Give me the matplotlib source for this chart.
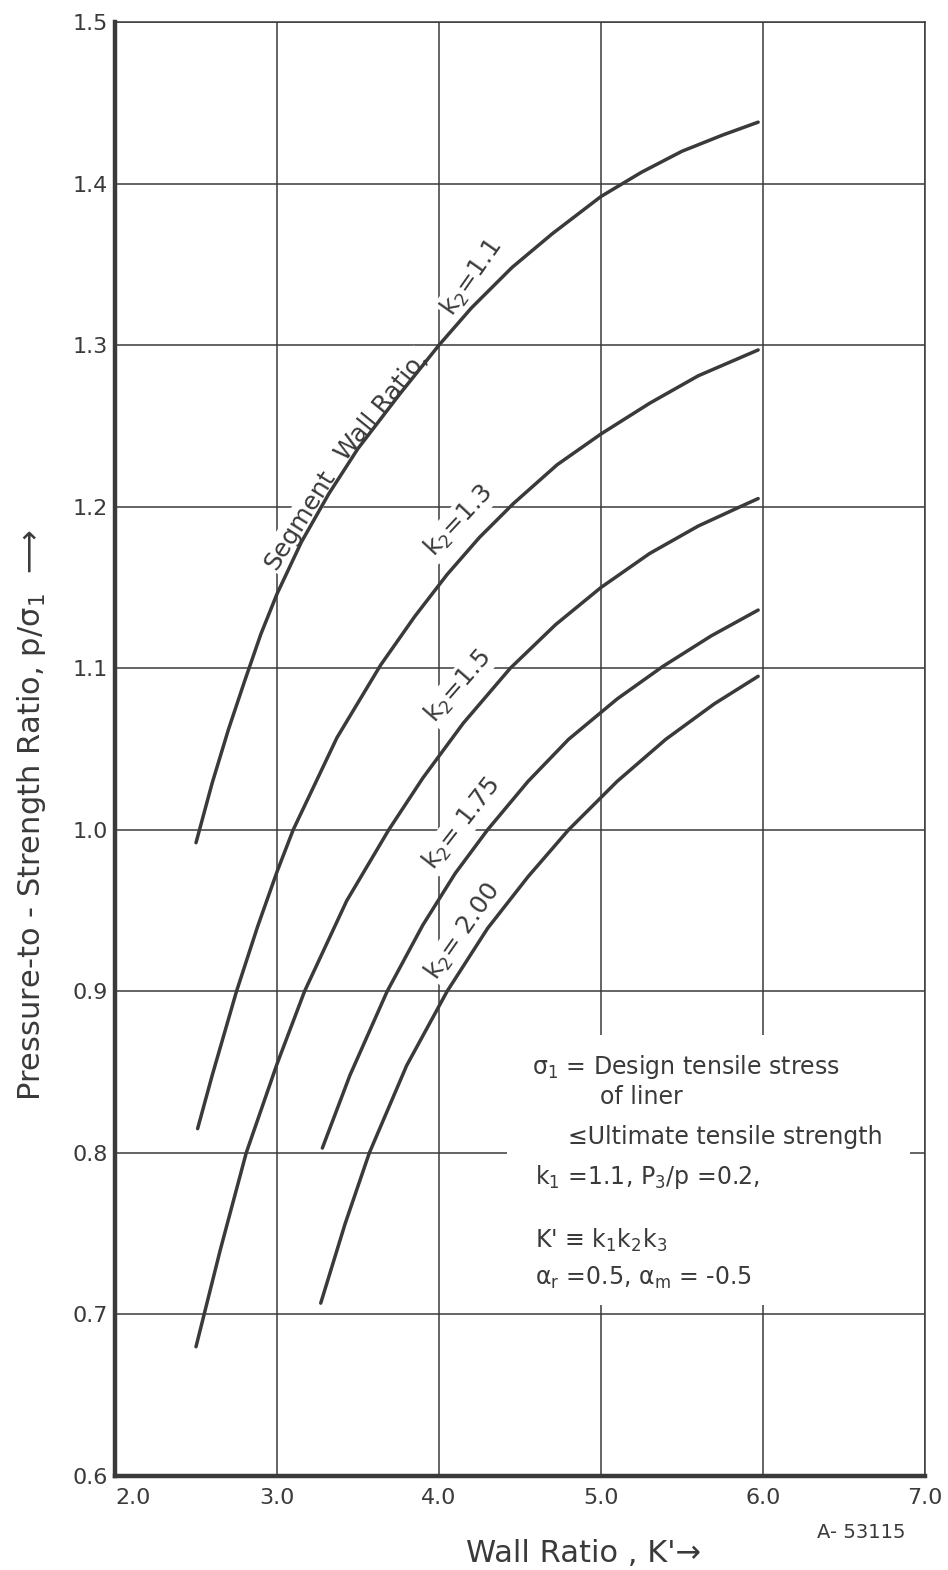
import numpy as np
import matplotlib.pyplot as plt
from matplotlib.patches import Rectangle

plt.rcParams['font.family'] = ['DejaVu Sans']
plt.rcParams['mathtext.default'] = 'regular'

ink = '#3a3a3a'

# curves: wall ratio K' vs p/sigma_1, one per segment wall ratio k2
k2_11_x = [2.50, 2.60, 2.70, 2.80, 2.90, 3.00, 3.15, 3.32, 3.50, 3.76, 4.00, 4.20,
           4.45, 4.70, 5.00, 5.25, 5.50, 5.75, 5.97]
k2_11_y = [0.992, 1.029, 1.062, 1.092, 1.121, 1.146, 1.178, 1.208, 1.236, 1.270, 1.300, 1.323,
           1.348, 1.369, 1.392, 1.407, 1.420, 1.430, 1.438]

k2_13_x = [2.51, 2.60, 2.75, 2.88, 3.00, 3.10, 3.37, 3.64, 3.85, 4.05, 4.25, 4.46,
           4.73, 5.00, 5.30, 5.60, 5.97]
k2_13_y = [0.815, 0.848, 0.900, 0.940, 0.974, 1.000, 1.057, 1.102, 1.132, 1.158, 1.181, 1.202,
           1.226, 1.245, 1.264, 1.281, 1.297]

k2_15_x = [2.50, 2.65, 2.81, 3.00, 3.17, 3.43, 3.69, 3.90, 4.15, 4.44, 4.72, 5.00,
           5.30, 5.60, 5.86, 5.97]
k2_15_y = [0.680, 0.740, 0.800, 0.855, 0.900, 0.956, 1.000, 1.032, 1.066, 1.100, 1.127, 1.150,
           1.171, 1.188, 1.200, 1.205]

k2_175_x = [3.28, 3.45, 3.68, 3.90, 4.10, 4.30, 4.55, 4.80, 5.10, 5.38, 5.68, 5.97]
k2_175_y = [0.803, 0.848, 0.900, 0.941, 0.973, 1.000, 1.030, 1.056, 1.081, 1.101, 1.120, 1.136]

k2_200_x = [3.27, 3.42, 3.57, 3.80, 4.05, 4.30, 4.55, 4.80, 5.10, 5.40, 5.70, 5.97]
k2_200_y = [0.707, 0.756, 0.800, 0.854, 0.900, 0.939, 0.971, 1.000, 1.030, 1.056, 1.078, 1.095]

xticks = [2.0, 3.0, 4.0, 5.0, 6.0, 7.0]
yticks = [0.6, 0.7, 0.8, 0.9, 1.0, 1.1, 1.2, 1.3, 1.4, 1.5]

fig = plt.figure(figsize=(9.48, 15.70), dpi=100)
ax = fig.add_axes([115/948, 1-1476/1570, 810/948, 1454/1570])

for xs, ys in [(k2_11_x, k2_11_y), (k2_13_x, k2_13_y), (k2_15_x, k2_15_y),
               (k2_175_x, k2_175_y), (k2_200_x, k2_200_y)]:
    ax.plot(xs, ys, color=ink, lw=2.5, solid_capstyle='round', solid_joinstyle='round', zorder=2)

ax.set_xlim(2.0, 7.0)
ax.set_ylim(0.6, 1.5)
ax.set_xticks(xticks)
ax.set_yticks(yticks)
ax.set_xticklabels(['%.1f' % v for v in xticks], fontsize=16, color=ink)
ax.set_yticklabels(['%.1f' % v for v in yticks], fontsize=16, color=ink)
ax.get_xticklabels()[0].set_ha('left')
ax.tick_params(length=0, colors=ink)
ax.tick_params(axis='y', pad=5)
ax.tick_params(axis='x', pad=9)
ax.grid(True, color=ink, lw=1.1)

for side in ['left', 'bottom']:
    ax.spines[side].set_linewidth(3.2)
for side in ['top', 'right']:
    ax.spines[side].set_linewidth(1.1)
for sp in ax.spines.values():
    sp.set_color(ink)

ax.set_xlabel("Wall Ratio , K'\u2192", fontsize=22, color=ink)
ax.xaxis.set_label_coords((583-115)/810, (1476-1553)/1454)
ax.xaxis.label.set_va('center')
ax.set_ylabel("Pressure-to - Strength Ratio, p/\u03c3$_1$  \u27f6", fontsize=22, color=ink)
ax.yaxis.set_label_coords((32-115)/810, (1476-815)/1454)
ax.yaxis.label.set_va('center')

fig.text(817/948, 1-1533/1570, 'A- 53115', fontsize=14, color=ink, va='center')

# curve labels, white box breaks the grid behind them like the original
lab = dict(fontsize=18, color=ink, ha='center', va='center', rotation_mode='anchor',
           zorder=1.9, bbox=dict(fc='white', ec='none', pad=1))
ax.text(3.14, 1.192, 'Segment', rotation=58, **lab)
ax.text(3.645, 1.262, 'Wall Ratio,', rotation=51, **lab)
ax.text(4.20, 1.342, 'k$_2$=1.1', rotation=55, **lab)
ax.text(4.12, 1.191, 'k$_2$=1.3', rotation=47, **lab)
ax.text(4.12, 1.089, 'k$_2$=1.5', rotation=49, **lab)
ax.text(4.14, 1.004, 'k$_2$= 1.75', rotation=52, **lab)
ax.text(4.15, 0.937, 'k$_2$= 2.00', rotation=55, **lab)

# note block
ax.add_patch(Rectangle((0.484, 0.1176), 0.497, 0.186, transform=ax.transAxes,
                       fc='white', ec='none', zorder=1.8))
note = dict(fontsize=17, color=ink, ha='left', va='center', zorder=3)
ax.text(4.574, 0.853, '\u03c3$_1$ = Design tensile stress', **note)
ax.text(4.994, 0.8345, 'of liner', **note)
ax.text(4.796, 0.810, '\u2264Ultimate tensile strength', **note)
ax.text(4.593, 0.785, 'k$_1$ =1.1, P$_3$/p =0.2,', **note)
ax.text(4.593, 0.746, "K' \u2261 k$_1$k$_2$k$_3$", **note)
ax.text(4.593, 0.7225, '\u03b1$_r$ =0.5, \u03b1$_m$ = -0.5', **note)

fig.savefig('out.png', dpi=100, facecolor='white')
